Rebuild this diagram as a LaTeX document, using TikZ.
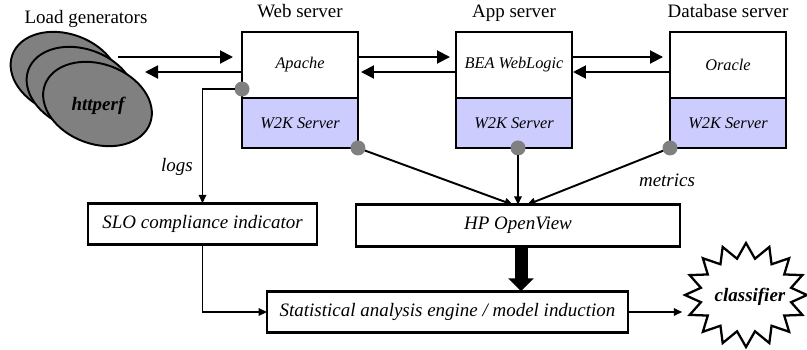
\documentclass[tikz,border=0pt]{standalone}
\usepackage{fontspec}
\setmainfont{Liberation Serif}
\newfontfamily\timesfont{Liberation Serif}
\usepackage{tikz}
\usetikzlibrary{shapes,arrows.meta,positioning}
\definecolor{oslilac}{RGB}{204,204,255}
\definecolor{probegray}{RGB}{128,128,128}
\tikzset{
	hdr/.style={font=\timesfont\fontsize{10.8}{13}\selectfont,inner sep=0pt,text depth=0pt},
	lbl/.style={font=\timesfont\fontsize{10.8}{13}\selectfont\itshape},
	gen/.style={ellipse,draw=black,line width=1.1pt,fill=probegray,inner sep=0pt,
		minimum width=2.24cm,minimum height=1.6cm,rotate=-20},
	sw/.style={draw=black,line width=1.5pt,inner sep=0pt,outer sep=0pt,
		minimum width=2.32cm,minimum height=1.32cm,
		font=\timesfont\fontsize{9.3}{11}\selectfont\itshape},
	os/.style={sw,fill=oslilac,minimum height=1cm},
	probe/.style={circle,fill=probegray,inner sep=0pt,outer sep=0pt,minimum size=0.3cm},
	box/.style={lbl,draw=black,line width=1.5pt,outer sep=0pt,minimum height=0.83cm},
	burst/.style={starburst,draw=black,line width=1.3pt,fill=white,inner sep=0pt,
		starburst points=16,starburst point height=0.3cm,random starburst=0,
		minimum width=2.44cm,minimum height=2.08cm},
	bigtip/.style={-{Triangle[length=0.26cm,width=0.26cm]},line width=1.1pt},
	smalltip/.style={-{Triangle[length=0.17cm,width=0.15cm]},line width=1.1pt},
	fat/.style={-{Triangle[length=0.26cm,width=0.5cm]},line width=0.26cm}
}
\begin{document}
\begin{tikzpicture}[x=0.02cm,y=-0.02cm]
	\useasboundingbox (0,0) rectangle (807,349);
	%% load generators
	\node[gen] (gen1) at (65,74) {};
	\node[gen] (gen2) at (81,89) {};
	\node[gen] (gen3) at (97.5,104) {};
	\node[lbl] (httperf) at (98,106) {\bfseries httperf};
	\node[hdr,anchor=base] (loadgen) at (86,23) {Load generators};
	%% the three tiers
	\node[sw,label={[hdr,label distance=0.28cm]above:Web server}] (web) at (300,65) {Apache};
	\node[os,below=0pt of web] (webos) {W2K Server};
	\node[sw,label={[hdr,label distance=0.28cm]above:App server}] (app) at (514,65) {BEA WebLogic};
	\node[os,below=0pt of app] (appos) {W2K Server};
	\node[sw,label={[hdr,label distance=0.28cm]above:Database server}] (db) at (728,65) {Oracle};
	\node[os,below=0pt of db] (dbos) {W2K Server};
	%% requests and replies
	\coordinate (genout) at (118,57);
	\coordinate (genin) at (145,72);
	\draw[bigtip,shorten >=0.18cm] (genout) -- (genout -| web.west);
	\draw[bigtip] ([yshift=-0.8cm]web.north west) -- (genin);
	\draw[bigtip,shorten >=0.12cm] ([yshift=-0.5cm]web.north east) -- ([yshift=-0.5cm]app.north west);
	\draw[bigtip,shorten >=0.06cm] ([yshift=-0.8cm]app.north west) -- ([yshift=-0.8cm]web.north east);
	\draw[bigtip,shorten >=0.14cm] ([yshift=-0.5cm]app.north east) -- ([yshift=-0.5cm]db.north west);
	\draw[bigtip,shorten >=0.02cm] ([yshift=-0.8cm]db.north west) -- ([yshift=-0.8cm]app.north east);
	%% analysis side
	\node[box,minimum width=4.58cm] (slo) at (202.5,224) {SLO compliance indicator};
	\node[box,minimum width=6.48cm] (hp) at (518,225.5) {HP OpenView};
	\node[box,minimum width=7.22cm] (stat) at (447.5,312) {Statistical analysis engine / model induction};
	\node[burst] (clf) at (746,295) {};
	\node[lbl] (clftext) at (750,297) {\bfseries classifier};
	\node[lbl] (logs) at (177,167) {logs};
	\node[lbl] (metrics) at (667,180) {metrics};
	%% probes
	\node[probe] (plog) at ([yshift=0.18cm]web.south west) {};
	\node[probe] (pweb) at (webos.south east) {};
	\node[probe] (papp) at ([xshift=0.08cm]appos.south) {};
	\node[probe] (pdb) at (dbos.south west) {};
	\draw[smalltip] (plog) -| (slo.north);
	\draw[smalltip] (pweb) -- ([xshift=-0.1cm]hp.north);
	\draw[smalltip] (papp) -- (papp |- hp.north);
	\draw[smalltip] (pdb) -- ([xshift=0.18cm]hp.north);
	\draw[smalltip] (slo.south) |- (stat.west);
	\draw[fat] ([xshift=0.06cm]hp.south) -- ([xshift=0.06cm]hp.south |- stat.north);
	\draw[smalltip] (stat.east) -- (stat.east -| clf.west);
\end{tikzpicture}
\end{document}
